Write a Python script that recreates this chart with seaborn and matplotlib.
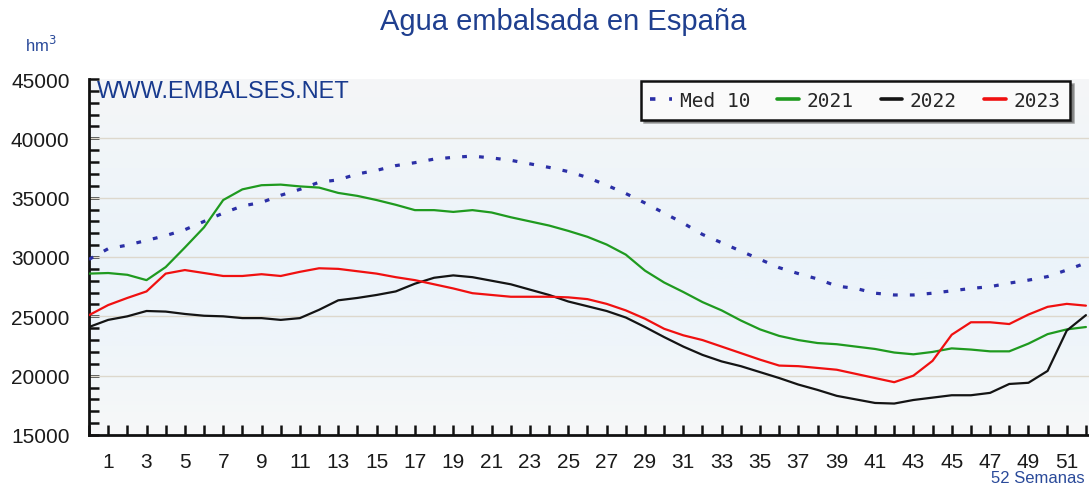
import numpy as np
import pandas as pd
import matplotlib
matplotlib.use("Agg")
import matplotlib.pyplot as plt
import seaborn as sns
from matplotlib.ticker import MultipleLocator
from matplotlib.colors import LinearSegmentedColormap

# semanas 0..52
weeks = list(range(0, 53))

med10 = [29800, 30700, 31000, 31400, 31800, 32300, 33000, 33700, 34300, 34600,
         35200, 35700, 36300, 36500, 37000, 37300, 37700, 37950, 38250, 38400,
         38500, 38350, 38150, 37850, 37550, 37200, 36700, 36050, 35350, 34550,
         33700, 32850, 31900, 31200, 30500, 29800, 29100, 28600, 28150, 27550,
         27350, 26950, 26800, 26800, 26950, 27150, 27350, 27500, 27800, 28050,
         28350, 28900, 29500]
y2021 = [28600, 28650, 28500, 28050, 29150, 30800, 32500, 34800, 35700, 36050,
         36100, 35950, 35850, 35400, 35150, 34800, 34400, 33950, 33950, 33800,
         33950, 33750, 33350, 33000, 32650, 32200, 31700, 31050, 30200, 28850,
         27850, 27050, 26200, 25500, 24650, 23900, 23350, 23000, 22750, 22650,
         22450, 22250, 21950, 21800, 22000, 22300, 22200, 22050, 22050, 22700,
         23500, 23900, 24100]
y2022 = [24100, 24700, 25000, 25450, 25400, 25200, 25050, 25000, 24850, 24850,
         24700, 24850, 25550, 26350, 26550, 26800, 27100, 27750, 28250, 28450,
         28300, 28000, 27700, 27250, 26800, 26250, 25850, 25450, 24900, 24100,
         23250, 22450, 21750, 21200, 20800, 20300, 19800, 19250, 18800, 18300,
         18000, 17700, 17650, 17950, 18150, 18350, 18350, 18550, 19300, 19400,
         20400, 23800, 25100]
y2023 = [25100, 25950, 26550, 27100, 28600, 28900, 28650, 28400, 28400, 28550,
         28400, 28750, 29050, 29000, 28800, 28600, 28300, 28050, 27700, 27350,
         26950, 26800, 26650, 26650, 26650, 26600, 26450, 26050, 25500, 24800,
         23950, 23400, 23000, 22450, 21900, 21350, 20850, 20800, 20650, 20500,
         20150, 19800, 19450, 20000, 21250, 23450, 24500, 24500, 24350, 25150,
         25800, 26050, 25900]

x_labels = list(range(1, 52, 2))

sns.set_style("white")
plt.rcParams['font.family'] = ['Liberation Sans', 'DejaVu Sans']

fig = plt.figure(figsize=(10.89, 4.85), dpi=100)
ax = fig.add_axes([89 / 1089, 49 / 485, 1000 / 1089, 356 / 485])

# fondo degradado suave
cmap = LinearSegmentedColormap.from_list("bg", ["#f7f8f8", "#eff5fa", "#ebf3fa", "#f0f5f9", "#f5f6f7"])
grad = np.linspace(0, 1, 256).reshape(-1, 1)
ax.imshow(grad, cmap=cmap, extent=[0, 1, 0, 1], transform=ax.transAxes,
          aspect='auto', origin='lower', zorder=0)

for yv in range(20000, 45000, 5000):
    ax.axhline(yv, color='#ddd8cd', lw=1.0, zorder=1)

sns.lineplot(x=weeks, y=med10, ax=ax, color='#2b2fa6', lw=2.3,
             linestyle=(0, (1.5, 3.8)), label='Med 10', zorder=3)
sns.lineplot(x=weeks, y=y2021, ax=ax, color='#1f9a1f', lw=1.6, label='2021', zorder=3)
sns.lineplot(x=weeks, y=y2022, ax=ax, color='#141414', lw=1.6, label='2022', zorder=3)
sns.lineplot(x=weeks, y=y2023, ax=ax, color='#f01010', lw=1.6, label='2023', zorder=4)

ax.set_xlim(0, 52.16)
ax.set_ylim(15000, 45000)
ax.set_xticks(x_labels)
ax.set_xticklabels([str(v) for v in x_labels])
ax.xaxis.set_minor_locator(MultipleLocator(1))
ax.set_yticks(range(15000, 45001, 5000))
ax.yaxis.set_minor_locator(MultipleLocator(1000))

ax.tick_params(axis='both', which='both', direction='in', length=7, width=1.8,
               color='#111111')
ax.tick_params(axis='y', which='major', labelsize=15, pad=14, labelcolor='#1a1a1a')
ax.tick_params(axis='x', which='major', labelsize=15, pad=12, labelcolor='#1a1a1a')
ax.xaxis.set_ticks_position('bottom')
ax.yaxis.set_ticks_position('left')

for side in ['top', 'right']:
    ax.spines[side].set_visible(False)
for side in ['left', 'bottom']:
    ax.spines[side].set_linewidth(2.0)
    ax.spines[side].set_color('#111111')
ax.set_xlabel('')
ax.set_ylabel('')

leg = ax.legend(loc='upper right', bbox_to_anchor=(0.981, 0.994), ncol=4,
                frameon=True, fancybox=False, shadow=True, borderaxespad=0,
                handlelength=1.1, handletextpad=0.4, columnspacing=1.4,
                borderpad=0.5, prop={'family': 'DejaVu Sans Mono', 'size': 14})
leg.get_frame().set_edgecolor('#111111')
leg.get_frame().set_linewidth(1.8)
leg.get_frame().set_facecolor('#fafafa')
leg.get_frame().set_alpha(1)
for h in leg.get_lines():
    h.set_linewidth(2.6)

ax.text(0.008, 0.965, 'WWW.EMBALSES.NET', transform=ax.transAxes, fontsize=17,
        color='#183a8e', ha='left', va='center', zorder=5)

fig.text(0.517, 0.955, 'Agua embalsada en España', fontsize=21, color='#1f3f8f',
         ha='center', va='center')
fig.text(0.023, 0.907, 'hm$^3$', fontsize=12, color='#2a4a9a', ha='left', va='center')
fig.text(0.996, 0.014, '52 Semanas', fontsize=12, color='#2a4a9a', ha='right', va='center')

fig.savefig('out.png', dpi=100)
